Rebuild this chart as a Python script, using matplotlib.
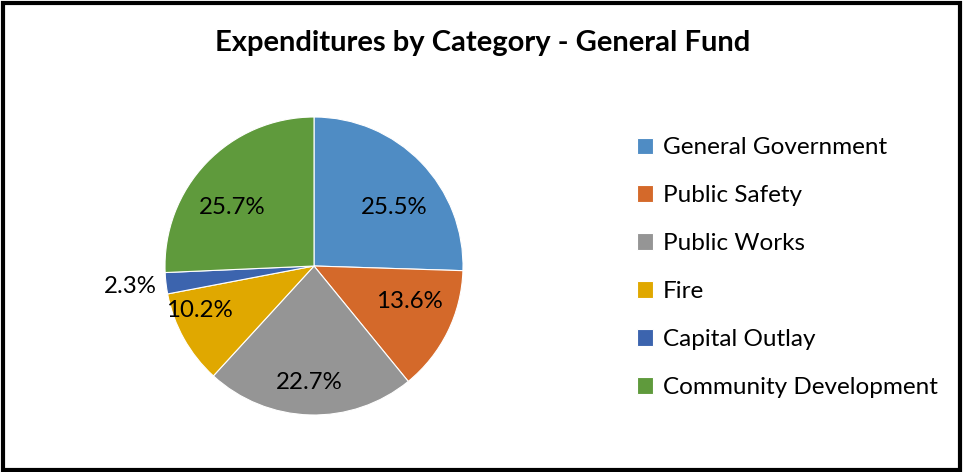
import matplotlib
matplotlib.use("Agg")
import matplotlib.pyplot as plt
from matplotlib.patches import Rectangle

categories = ["General Government", "Public Safety", "Public Works", "Fire",
              "Capital Outlay", "Community Development"]
shares = [25.5, 13.6, 22.7, 10.2, 2.3, 25.7]
colors = ["#4F8CC4", "#D4692A", "#959595", "#E0A800", "#3C64AE", "#5F9A3C"]

# label anchor points in pie-radius units
label_xy = [(0.54, 0.39), (0.64, -0.24), (-0.03, -0.78), (-0.77, -0.30),
            (-1.23, -0.14), (-0.55, 0.39)]

plt.rcParams["font.family"] = ["Lato", "DejaVu Sans"]

W, H = 964, 472
fig = plt.figure(figsize=(W / 100, H / 100), dpi=100)

cx, cy, r = 314, 266, 149
ax = fig.add_axes([(cx - r) / W, (H - cy - r) / H, 2 * r / W, 2 * r / H])
wedges, _ = ax.pie(shares, colors=colors, startangle=90, counterclock=False,
                   radius=1.0, wedgeprops=dict(edgecolor="white", linewidth=0.8))
ax.set_xlim(-1, 1)
ax.set_ylim(-1, 1)
ax.set_aspect("equal")
ax.axis("off")

for v, (lx, ly) in zip(shares, label_xy):
    ax.text(lx, ly, f"{v:.1f}%", ha="center", va="center", fontsize=17.3,
            color="black", clip_on=False)

fig.text(483 / W, 1 - 43 / H, "Expenditures by Category - General Fund",
         ha="center", va="center", fontsize=21, fontweight="bold")

fig.legend(wedges, categories, loc="upper left",
           bbox_to_anchor=(625 / W, 1 - 125 / H), frameon=False,
           fontsize=17.5, handlelength=0.65, handleheight=0.65,
           handletextpad=0.4, labelspacing=1.11, borderpad=0)

fig.add_artist(Rectangle((3 / W, 2 / H), (W - 7) / W, (H - 5) / H,
                         transform=fig.transFigure, fill=False,
                         edgecolor="black", linewidth=3))

fig.savefig("out.png", dpi=100, facecolor="white")
